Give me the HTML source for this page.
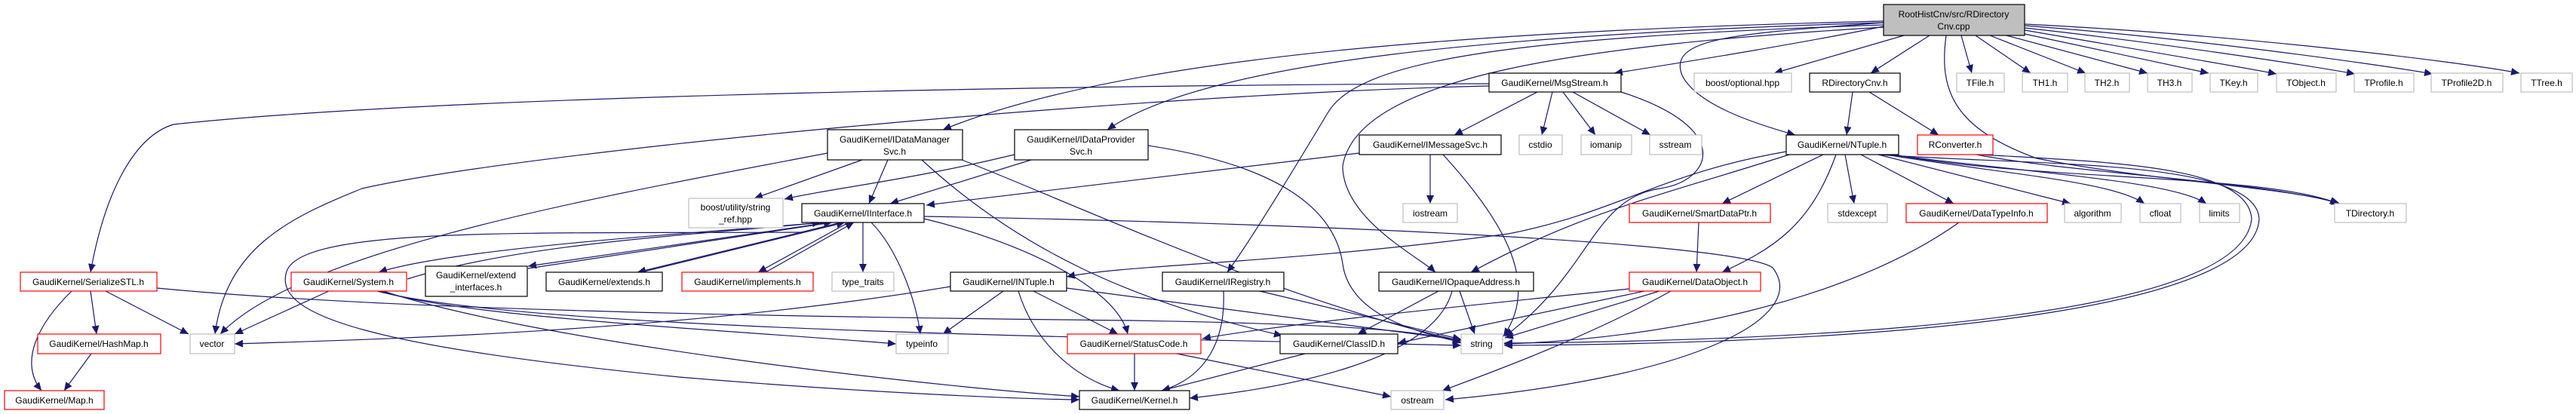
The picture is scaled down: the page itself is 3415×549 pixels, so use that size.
<!DOCTYPE html>
<html><head><meta charset="utf-8"><style>
html,body{margin:0;padding:0;background:#fff;}
svg{display:block}
text{font-family:"Liberation Sans",Arial,sans-serif;font-size:12px;fill:#000;text-anchor:middle}
.e{fill:none;stroke:#191970;stroke-width:1.2}
.k{fill:#fff;stroke:#000;stroke-width:1.2}
.r{fill:#fff;stroke:#ff0000;stroke-width:1.2}
.g{fill:#fff;stroke:#bfbfbf;stroke-width:1.2}
</style></head><body>
<svg width="3415" height="549" viewBox="0 0 3415 549" xmlns="http://www.w3.org/2000/svg">
<defs><marker id="a" markerUnits="userSpaceOnUse" markerWidth="12" markerHeight="10" refX="11" refY="5" orient="auto"><path d="M0,0 L11,5 L0,10 z" fill="#191970"/></marker></defs>
<g class="e" marker-end="url(#a)">
<!-- Root edges -->
<path d="M2497,35 C2400,55 2250,80 2140,97"/>
<path d="M2524,47 L2352,97"/>
<path d="M2558,47 L2480,97"/>
<path d="M2600,47 L2614,97"/>
<path d="M2619,47 L2692,97"/>
<path d="M2638,47 L2765,97"/>
<path d="M2660,47 L2847,97"/>
<path d="M2684,45 L2928,97"/>
<path d="M2684,40 C2800,60 2950,85 3018,98"/>
<path d="M2684,37 C2850,55 3050,85 3122,98"/>
<path d="M2684,34 C2900,50 3150,85 3225,98"/>
<path d="M2684,32 C2950,45 3250,80 3340,97"/>
<path d="M2580,47 C2570,120 2590,170 2700,210 C2850,240 3050,250 3100,270"/>
<path d="M2497,30 C2300,45 2210,50 2230,100 C2250,140 2330,165 2380,179"/>
<path d="M2497,28 C2000,40 1500,70 1250,172"/>
<path d="M2497,30 C2000,45 1600,80 1468,172"/>
<path d="M2497,33 C2000,50 1800,80 1760,150 C1700,250 1650,330 1627,361"/>
<path d="M2497,36 C2100,60 1800,100 1780,220 C1780,290 1880,340 1903,361"/>
<!-- MsgStream -->
<path d="M1974,111 C1500,112 600,125 230,165 C180,180 140,250 120,361"/>
<path d="M1974,114 C1500,125 700,200 480,250 C380,290 300,330 285,443"/>
<path d="M2038,122 L1928,179"/>
<path d="M2058,122 L2044,179"/>
<path d="M2072,122 L2115,179"/>
<path d="M2085,122 L2188,179"/>
<path d="M2149,122 C2300,170 2270,240 2200,250 C2110,265 2110,360 1995,446"/>
<!-- IDataManagerSvc -->
<path d="M1143,212 L1000,263"/>
<path d="M1177,212 L1152,270"/>
<path d="M1275,212 C1400,260 1700,400 1937,452"/>
<path d="M1222,212 C1350,330 1500,400 1700,445"/>
<path d="M1097,203 C800,260 400,330 292,443"/>
<!-- IDataProviderSvc -->
<path d="M1367,212 L1180,270"/>
<path d="M1345,205 C1200,240 1100,250 1040,264"/>
<path d="M1522,193 C1700,220 1770,280 1780,350 C1790,420 1880,440 1937,454"/>
<!-- IMessageSvc -->
<path d="M1802,203 L1228,272"/>
<path d="M1896,205 L1896,270"/>
<path d="M1913,205 C2000,300 2040,380 1993,446"/>
<!-- IInterface -->
<path d="M1095,295 C900,310 600,330 502,361"/>
<path d="M1100,295 L700,353"/>
<path d="M700,356 L1103,295"/>
<path d="M1115,295 L845,361"/>
<path d="M850,361 L1120,295"/>
<path d="M1125,295 L1005,361"/>
<path d="M1015,361 L1132,295"/>
<path d="M540,370 C700,320 950,310 1088,295"/>
<path d="M1144,295 L1144,361"/>
<path d="M1155,295 C1190,330 1215,400 1220,443"/>
<path d="M1225,290 C1350,320 1480,380 1495,443"/>
<path d="M1225,287 C1700,295 2300,320 2350,355 C2400,420 2250,500 1916,530"/>
<path d="M1063,308 C700,310 400,300 380,360 C360,420 500,460 900,500 C1200,525 1400,530 1431,530"/>
<!-- System -->
<path d="M436,386 L311,443"/>
<path d="M500,386 C700,440 1600,450 1937,458"/>
<path d="M505,386 C600,420 1000,440 1188,456"/>
<path d="M508,386 C700,450 1200,510 1431,526"/>
<!-- SerializeSTL -->
<path d="M120,386 L128,443"/>
<path d="M140,386 L250,443"/>
<path d="M95,386 C50,430 25,480 55,518"/>
<path d="M208,382 C500,410 1000,420 1500,425 C1800,430 1900,440 1937,455"/>
<path d="M121,469 L85,518"/>
<!-- INTuple -->
<path d="M1260,380 C900,440 500,450 311,456"/>
<path d="M1330,386 L1250,443"/>
<path d="M1370,386 L1482,443"/>
<path d="M1350,386 C1370,450 1420,500 1484,518"/>
<path d="M1414,382 L1937,451"/>
<!-- IRegistry -->
<path d="M1622,386 C1625,450 1600,500 1540,518"/>
<path d="M1670,386 L1937,450"/>
<!-- IOpaqueAddress -->
<path d="M1907,386 L1800,443"/>
<path d="M1935,386 L1955,443"/>
<path d="M1925,386 C1900,480 1700,515 1577,528"/>
<!-- StatusCode, ClassID -->
<path d="M1504,469 L1504,518"/>
<path d="M1560,469 L1844,526"/>
<path d="M1730,469 L1540,518"/>
<!-- DataObject -->
<path d="M2160,383 C1900,410 1700,430 1594,449"/>
<path d="M2180,386 L1853,455"/>
<path d="M2200,386 L1995,448"/>
<path d="M2215,386 C2100,450 1960,500 1912,518"/>
<path d="M2252,295 L2249,361"/>
<path d="M2597,295 C2450,400 2200,450 1994,456"/>
<!-- NTuple -->
<path d="M2368,201 C2200,230 2150,280 2000,310 C1700,350 1500,350 1414,367"/>
<path d="M2372,205 C2200,260 2100,280 1950,361"/>
<path d="M2417,205 L2283,270"/>
<path d="M2434,205 C2400,300 2350,330 2283,361"/>
<path d="M2446,205 L2458,270"/>
<path d="M2467,205 L2590,270"/>
<path d="M2490,205 L2745,270"/>
<path d="M2500,205 C2650,230 2800,240 2843,270"/>
<path d="M2505,205 C2700,230 2880,240 2925,270"/>
<path d="M2510,205 C2700,240 3000,230 3100,270"/>
<path d="M2490,205 C2700,220 2990,210 2995,290 C2990,400 2600,455 1994,458"/>
<!-- RDirectoryCnv, RConverter -->
<path d="M2456,122 L2448,179"/>
<path d="M2478,122 L2570,179"/>
<path d="M2620,205 C2750,230 3000,240 3102,270"/>
<path d="M2625,205 C2800,215 2980,220 2985,290 C2975,400 2600,450 1994,455"/>
</g>
<!-- nodes -->
<rect class="g" x="2497" y="6" width="187" height="41" style="fill:#bfbfbf;stroke:#000"/>
<text x="2590" y="23">RootHistCnv/src/RDirectory</text><text x="2590" y="39">Cnv.cpp</text>

<rect class="k" x="1974" y="97" width="175" height="25"/><text x="2061" y="114">GaudiKernel/MsgStream.h</text>
<rect class="g" x="2246" y="97" width="129" height="25"/><text x="2310" y="114">boost/optional.hpp</text>
<rect class="k" x="2399" y="97" width="120" height="25"/><text x="2459" y="114">RDirectoryCnv.h</text>
<rect class="g" x="2594" y="97" width="63" height="25"/><text x="2625" y="114">TFile.h</text>
<rect class="g" x="2681" y="97" width="60" height="25"/><text x="2711" y="114">TH1.h</text>
<rect class="g" x="2764" y="97" width="59" height="25"/><text x="2793" y="114">TH2.h</text>
<rect class="g" x="2847" y="97" width="59" height="25"/><text x="2876" y="114">TH3.h</text>
<rect class="g" x="2930" y="97" width="63" height="25"/><text x="2961" y="114">TKey.h</text>
<rect class="g" x="3018" y="97" width="79" height="25"/><text x="3057" y="114">TObject.h</text>
<rect class="g" x="3121" y="97" width="79" height="25"/><text x="3160" y="114">TProfile.h</text>
<rect class="g" x="3223" y="97" width="95" height="25"/><text x="3270" y="114">TProfile2D.h</text>
<rect class="g" x="3342" y="97" width="68" height="25"/><text x="3376" y="114">TTree.h</text>

<rect class="k" x="1097" y="172" width="179" height="40"/><text x="1186" y="189">GaudiKernel/IDataManager</text><text x="1186" y="205">Svc.h</text>
<rect class="k" x="1345" y="172" width="177" height="40"/><text x="1433" y="189">GaudiKernel/IDataProvider</text><text x="1433" y="205">Svc.h</text>
<rect class="k" x="1802" y="179" width="188" height="26"/><text x="1896" y="196">GaudiKernel/IMessageSvc.h</text>
<rect class="g" x="2014" y="179" width="57" height="26"/><text x="2042" y="196">cstdio</text>
<rect class="g" x="2096" y="179" width="67" height="26"/><text x="2129" y="196">iomanip</text>
<rect class="g" x="2187" y="179" width="69" height="26"/><text x="2221" y="196">sstream</text>
<rect class="k" x="2368" y="179" width="149" height="26"/><text x="2442" y="196">GaudiKernel/NTuple.h</text>
<rect class="r" x="2542" y="179" width="100" height="26"/><text x="2592" y="196">RConverter.h</text>

<rect class="g" x="913" y="263" width="125" height="39"/><text x="975" y="279">boost/utility/string</text><text x="975" y="295">_ref.hpp</text>
<rect class="k" x="1063" y="270" width="162" height="25"/><text x="1144" y="287">GaudiKernel/IInterface.h</text>
<rect class="g" x="1860" y="270" width="72" height="25"/><text x="1896" y="287">iostream</text>
<rect class="r" x="2160" y="270" width="187" height="25"/><text x="2253" y="287">GaudiKernel/SmartDataPtr.h</text>
<rect class="g" x="2423" y="270" width="79" height="25"/><text x="2462" y="287">stdexcept</text>
<rect class="r" x="2527" y="270" width="187" height="25"/><text x="2620" y="287">GaudiKernel/DataTypeInfo.h</text>
<rect class="g" x="2737" y="270" width="75" height="25"/><text x="2774" y="287">algorithm</text>
<rect class="g" x="2837" y="270" width="54" height="25"/><text x="2864" y="287">cfloat</text>
<rect class="g" x="2916" y="270" width="53" height="25"/><text x="2942" y="287">limits</text>
<rect class="g" x="3095" y="270" width="95" height="25"/><text x="3142" y="287">TDirectory.h</text>

<rect class="r" x="27" y="361" width="181" height="25"/><text x="117" y="378">GaudiKernel/SerializeSTL.h</text>
<rect class="r" x="386" y="361" width="153" height="25"/><text x="462" y="378">GaudiKernel/System.h</text>
<rect class="k" x="564" y="353" width="135" height="40"/><text x="631" y="369">GaudiKernel/extend</text><text x="631" y="385">_interfaces.h</text>
<rect class="k" x="724" y="361" width="154" height="25"/><text x="801" y="378">GaudiKernel/extends.h</text>
<rect class="r" x="904" y="361" width="174" height="25"/><text x="991" y="378">GaudiKernel/implements.h</text>
<rect class="g" x="1103" y="361" width="82" height="25"/><text x="1144" y="378">type_traits</text>
<rect class="k" x="1260" y="361" width="154" height="25"/><text x="1337" y="378">GaudiKernel/INTuple.h</text>
<rect class="k" x="1541" y="361" width="161" height="25"/><text x="1621" y="378">GaudiKernel/IRegistry.h</text>
<rect class="k" x="1828" y="361" width="205" height="25"/><text x="1930" y="378">GaudiKernel/IOpaqueAddress.h</text>
<rect class="r" x="2160" y="361" width="174" height="25"/><text x="2247" y="378">GaudiKernel/DataObject.h</text>

<rect class="r" x="50" y="443" width="163" height="26"/><text x="131" y="460">GaudiKernel/HashMap.h</text>
<rect class="g" x="252" y="443" width="59" height="26"/><text x="281" y="460">vector</text>
<rect class="g" x="1188" y="443" width="69" height="26"/><text x="1222" y="460">typeinfo</text>
<rect class="r" x="1415" y="443" width="177" height="26"/><text x="1503" y="460">GaudiKernel/StatusCode.h</text>
<rect class="k" x="1697" y="443" width="156" height="26"/><text x="1775" y="460">GaudiKernel/ClassID.h</text>
<rect class="g" x="1937" y="443" width="55" height="26"/><text x="1964" y="460">string</text>

<rect class="r" x="6" y="518" width="132" height="25"/><text x="72" y="535">GaudiKernel/Map.h</text>
<rect class="k" x="1431" y="518" width="146" height="25"/><text x="1504" y="535">GaudiKernel/Kernel.h</text>
<rect class="g" x="1844" y="518" width="70" height="25"/><text x="1879" y="535">ostream</text>
</svg>
</body></html>
